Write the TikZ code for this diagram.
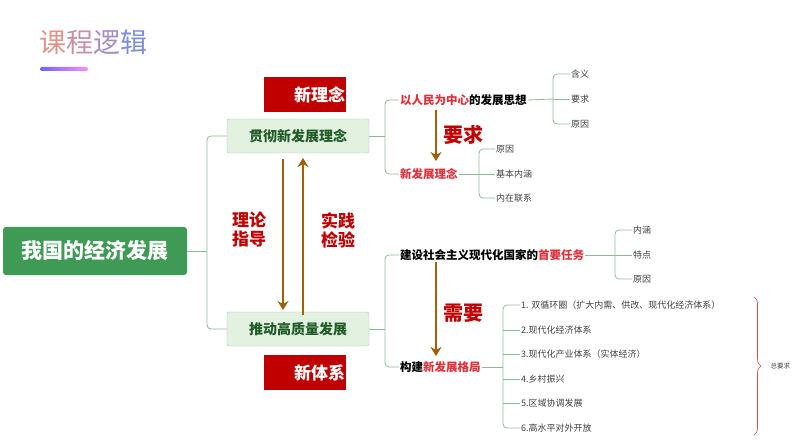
\documentclass[tikz,border=0pt]{standalone}
\usepackage{fontspec}
\setmainfont{Noto Sans CJK SC}
\usetikzlibrary{arrows.meta,decorations.pathreplacing}
\definecolor{boxgreen}{HTML}{3F9A55}
\definecolor{palegreen}{HTML}{E3F1E1}
\definecolor{darkgreen}{HTML}{1F5C26}
\definecolor{linegreen}{HTML}{8DBB95}
\definecolor{tagred}{HTML}{C00000}
\definecolor{keyred}{HTML}{E0303A}
\definecolor{brown}{HTML}{A0600A}
\tikzset{
   branch/.style={draw=linegreen, line width=0.8pt, rounded corners=4pt},
   subbox/.style={draw=linegreen!80, fill=palegreen, rounded corners=2pt, minimum width=142pt, minimum height=34pt, font=\fontsize{14}{14}\selectfont\bfseries, text=darkgreen},
   tag/.style={fill=tagred, minimum width=82pt, minimum height=35pt, inner xsep=0pt, text width=80pt, font=\fontsize{17}{17}\selectfont\bfseries, text=white, align=right},
   flow/.style={draw=brown, line width=2.8pt, -{Stealth[length=9pt,width=11pt]}},
   redword/.style={font=\fontsize{17}{19}\selectfont\bfseries, text=tagred, align=left},
   topic/.style={anchor=west, font=\fontsize{11.5}{12}\selectfont\bfseries, inner sep=1pt},
   leaf/.style={anchor=west, font=\fontsize{9}{9}\selectfont, text=black!75, inner sep=1pt}
}
\begin{document}
\begin{tikzpicture}[x=1pt,y=-1pt]
   \useasboundingbox (0,0) rectangle (794,446);
   % title
   \node[anchor=west, font=\fontsize{27}{27}\selectfont, inner sep=0pt] (title) at (39,42)
      {\textcolor[HTML]{E0938A}{课}\textcolor[HTML]{C98FA6}{程}\textcolor[HTML]{A48CC6}{逻}\textcolor[HTML]{7F8DE0}{辑}};
   \shade[left color=blue!60, right color=magenta!45, rounded corners=2pt] (40,67) rectangle (88,71);
   % main nodes
   \node[fill=boxgreen, rounded corners=3pt, minimum width=184pt, minimum height=48pt,
         font=\fontsize{21}{21}\selectfont\bfseries, text=white] (econ) at (95,251) {我国的经济发展};
   \node[subbox] (idea) at (298,136) {贯彻新发展理念};
   \node[subbox] (quality) at (298,329) {推动高质量发展};
   \node[tag, anchor=north west] (newidea) at (264,77) {新理念};
   \node[tag, anchor=north west] (newsys) at (264,355) {新体系};
   \draw[branch] (econ.east) -- (207,251);
   \draw[branch] (idea.west) -- (207,136) -- (207,329) -- (quality.west);
   % arrows between the two
   \coordinate (dtop) at (283,159);
   \coordinate (dbot) at (283,310);
   \coordinate (utop) at (303,158);
   \coordinate (ubot) at (303,315);
   \draw[flow] (dtop) -- (dbot);
   \draw[flow] (ubot) -- (utop);
   \node[redword] (guide) at (249,230) {理论\\指导};
   \node[redword] (test) at (338,230) {实践\\检验};
   % upper branch
   \node[topic] (people) at (399,100) {\textcolor{keyred}{以人民为中心}的发展思想};
   \node[topic, text=keyred] (concept) at (399,174) {新发展理念};
   \draw[branch] (idea.east) -- (385,136);
   \draw[branch] (people.west) -- (385,100) -- (385,174) -- (concept.west);
   \node[leaf] (meaning) at (570,74) {含义};
   \node[leaf] (demand) at (570,99) {要求};
   \node[leaf] (reason) at (570,124) {原因};
   \draw[branch] (people.east) -- (553,99);
   \draw[branch] (meaning.west) -- (553,74) -- (553,124) -- (reason.west);
   \draw[branch] (553,99) -- (demand.west);
   \node[leaf] (cause) at (495,149) {原因};
   \node[leaf] (core) at (495,174) {基本内涵};
   \node[leaf] (link) at (495,198) {内在联系};
   \draw[branch] (concept.east) -- (479,174);
   \draw[branch] (cause.west) -- (479,149) -- (479,198) -- (link.west);
   \draw[branch] (479,174) -- (core.west);
   \draw[flow] (436,110) -- (436,161);
   \node[redword, font=\fontsize{20}{20}\selectfont\bfseries] (req) at (463,135) {要求};
   % lower branch
   \node[topic] (task) at (399,255) {建设社会主义现代化国家的\textcolor{keyred}{首要任务}};
   \node[topic] (pattern) at (399,367) {构建\textcolor{keyred}{新发展格局}};
   \draw[branch] (quality.east) -- (385,329);
   \draw[branch] (task.west) -- (385,255) -- (385,367) -- (pattern.west);
   \node[leaf] (content) at (632,230) {内涵};
   \node[leaf] (feature) at (632,255) {特点};
   \node[leaf] (why) at (632,279) {原因};
   \draw[branch] (task.east) -- (615,255);
   \draw[branch] (content.west) -- (615,230) -- (615,279) -- (why.west);
   \draw[branch] (615,255) -- (feature.west);
   \draw[flow] (436,262) -- (436,356);
   \node[redword, font=\fontsize{20}{20}\selectfont\bfseries] (need) at (463,313) {需要};
   \draw[branch] (pattern.east) -- (503,367);
   \foreach \y/\t [count=\i] in {305/{1. 双循环圈（扩大内需、供改、现代化经济体系）},
         330/{2.现代化经济体系}, 354/{3.现代化产业体系（实体经济）},
         379/{4.乡村振兴}, 403/{5.区域协调发展}, 428/{6.高水平对外开放}} {
      \node[leaf] (item\i) at (520,\y) {\t};
   }
   \draw[branch] (item1.west) -- (503,305) -- (503,428) -- (item6.west);
   \foreach \i in {2,...,5} {
      \draw[branch] (503,0 |- item\i.west) -- (item\i.west);
   }
   \draw[draw=tagred!70, line width=0.6pt, decorate, decoration={brace, amplitude=7pt}]
      (754,297) -- (754,435);
   \node[anchor=west, font=\fontsize{6.5}{7}\selectfont, text=black!75] (total) at (767,366) {总要求};
\end{tikzpicture}
\end{document}
